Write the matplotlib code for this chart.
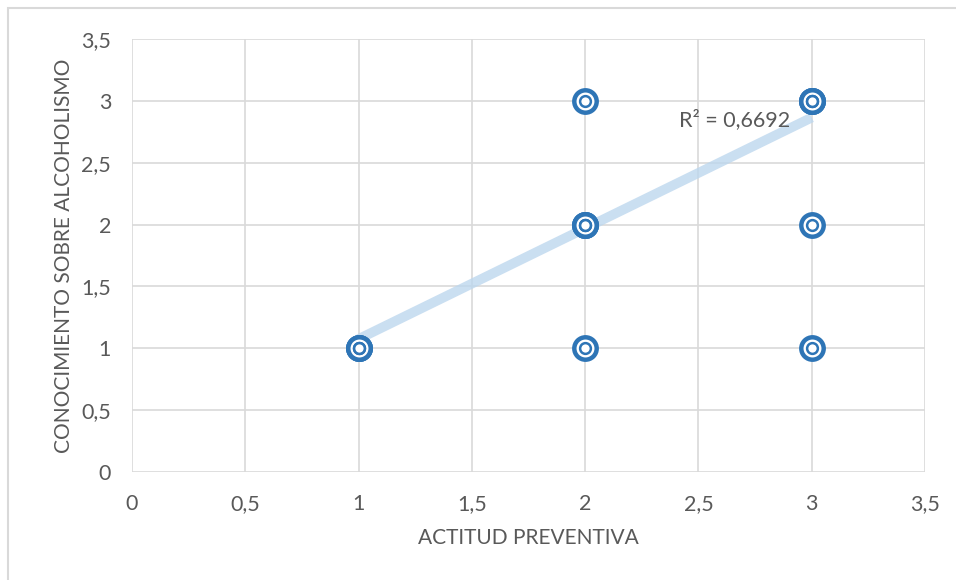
import numpy as np
import matplotlib
matplotlib.use("Agg")
import matplotlib.pyplot as plt
from matplotlib.ticker import FuncFormatter, MultipleLocator
from matplotlib.patches import Rectangle

# data
actitud = [1, 2, 2, 2, 3, 3, 3]
conocimiento = [1, 1, 2, 3, 1, 2, 3]
repeticiones = [3, 1, 3, 1, 1, 1, 3]
trend_slope = 0.895
trend_intercept = 0.18
r2_label = "R² = 0,6692"
x_title = "ACTITUD PREVENTIVA"
y_title = "CONOCIMIENTO SOBRE ALCOHOLISMO"

blue = "#2E75B6"
grid_c = "#D9D9D9"
text_c = "#595959"

plt.rcParams['font.family'] = ['Lato', 'DejaVu Sans']

fig = plt.figure(figsize=(9.56, 5.8), dpi=100)
ax = fig.add_axes([132 / 956, 1 - 472 / 580, (925 - 132) / 956, (472 - 39) / 580])

# outer border of the chart area (only top/left visible in the crop)
fig.patches.append(Rectangle((8 / 956, -0.1), 1.2, 1 - 8 / 580 + 0.1,
                             transform=fig.transFigure, fill=False,
                             edgecolor=grid_c, linewidth=1.5))

ax.set_xlim(0, 3.5)
ax.set_ylim(0, 3.5)
ax.xaxis.set_major_locator(MultipleLocator(0.5))
ax.yaxis.set_major_locator(MultipleLocator(0.5))
comma = FuncFormatter(lambda v, p: ("%g" % v).replace(".", ","))
ax.xaxis.set_major_formatter(comma)
ax.yaxis.set_major_formatter(comma)

ax.grid(True, color=grid_c, linewidth=1.2)
ax.set_axisbelow(True)
for s in ax.spines.values():
    s.set_visible(False)
ax.tick_params(length=0, labelsize=15.5, colors=text_c)
ax.tick_params(axis='x', pad=16)
ax.tick_params(axis='y', pad=15)

# trend line
tx = np.array([1, 3])
ax.plot(tx, trend_intercept + trend_slope * tx, color="#BDD7EE", linewidth=7,
        solid_capstyle='butt', alpha=0.8, zorder=2)

# markers, drawn once per repetition
for x, y, k in zip(actitud, conocimiento, repeticiones):
    for _ in range(k):
        ax.scatter([x], [y], s=260, facecolor="white", edgecolor=blue,
                   linewidth=3.2, zorder=3, clip_on=False)
        ax.scatter([x], [y], s=60, facecolor="white", edgecolor=blue,
                   linewidth=1.8, zorder=4, clip_on=False)

ax.text(2.905, 2.85, r2_label, ha='right', va='center', fontsize=15.5, color=text_c)

ax.set_xlabel(x_title, fontsize=15, color=text_c, labelpad=10)
ax.set_ylabel(y_title, fontsize=15, color=text_c, labelpad=5)

fig.savefig("out.png", dpi=100)
